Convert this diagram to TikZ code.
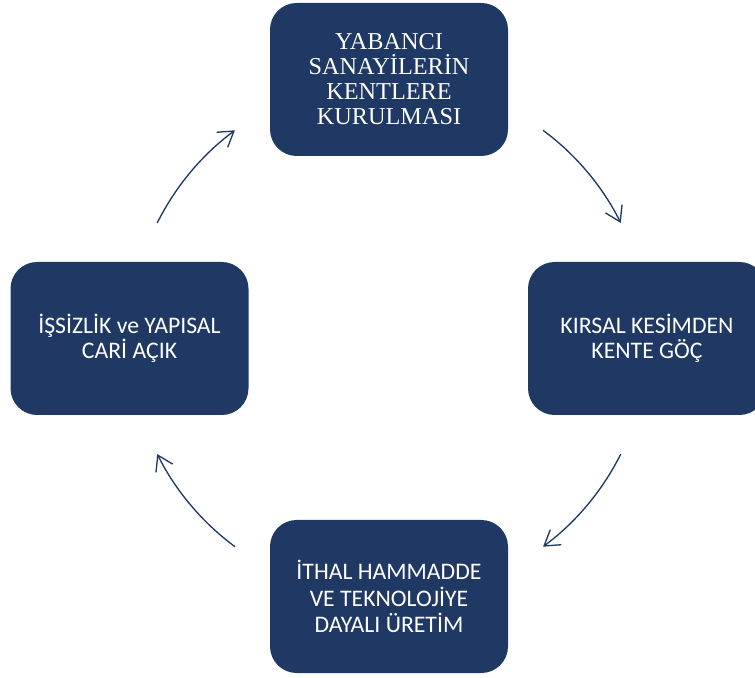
\documentclass[tikz,border=0pt]{standalone}
\usepackage{fontspec}
\setmainfont{Carlito}
\newfontfamily\romanfont{Liberation Serif}
\usepackage{xcolor}
\usepackage{tikz}
\usetikzlibrary{arrows.meta,calc}
\definecolor{navy}{HTML}{203864}

\begin{document}
\begin{tikzpicture}[x=0.75pt,y=0.75pt,
    stage/.style={fill=navy,rounded corners=20pt,minimum width=178.5pt,minimum height=114.75pt,
      inner sep=0pt,align=center,text=white,font=\fontsize{17.8}{18.9}\selectfont},
    cyc/.style={draw=navy,line width=1pt,-{Straight Barb[length=11pt,width=14pt]},looseness=0.86}]
      \useasboundingbox (0,0) rectangle (755,677);
      \clip (0,0) rectangle (755,677);
      \coordinate (hub) at (389,338.5);
      \node[stage,font=\romanfont\fontsize{18.2}{18.75}\selectfont] (yabanci) at (389,597.5)
        {YABANCI\\SANAYİLERİN\\KENTLERE\\KURULMASI};
      \node[stage] (goc) at (647,338.5) {KIRSAL KESİMDEN\\KENTE GÖÇ};
      \node[stage,font=\fontsize{17.8}{20}\selectfont] (ithal) at (389,80.5)
        {İTHAL HAMMADDE\\VE TEKNOLOJİYE\\DAYALI ÜRETİM};
      \node[stage] (issizlik) at (129.5,338.5) {İŞSİZLİK ve YAPISAL\\CARİ AÇIK};
      \foreach \i/\a in {1/53.5,2/-26.5,3/-126.5,4/153.5}{
        \coordinate (s\i) at ($(hub)+(\a:259)$);
        \coordinate (e\i) at ($(hub)+(\a-27:259)$);
        \draw[cyc] (s\i) to[bend left=13.5] (e\i);
      }
    \end{tikzpicture}
\end{document}
